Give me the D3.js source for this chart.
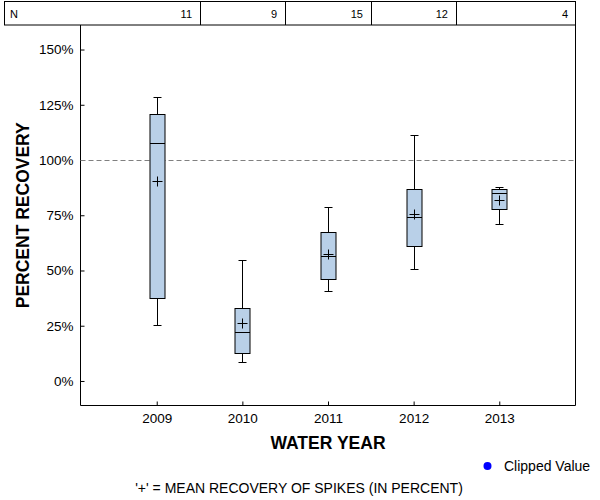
<!DOCTYPE html>
<html>
<head>
<meta charset="utf-8">
<script src="https://cdn.jsdelivr.net/npm/d3@7"></script>
<style>
  html, body { margin: 0; padding: 0; background: #fff; }
  svg { display: block; font-family: "Liberation Sans", Arial, sans-serif; }
</style>
</head>
<body>
<svg id="chart" width="600" height="500"></svg>
<script>
const years = [2009, 2010, 2011, 2012, 2013];
const counts = [11, 9, 15, 12, 4];
const whiskerLow = [25.2, 8.5, 40.6, 50.5, 70.9];
const q1 = [37.4, 12.5, 46.0, 61.0, 77.7];
const median = [107.7, 22.0, 56.4, 74.0, 84.9];
const q3 = [121.0, 32.9, 67.3, 86.7, 86.7];
const whiskerHigh = [128.4, 54.6, 78.6, 111.2, 87.6];
const means = [90.5, 26.1, 57.3, 75.7, 81.9];
const yTicks = [0, 25, 50, 75, 100, 125, 150];
const referenceLine = 100;

(function () {
const svg = d3.select("#chart");
const mLeft = 80.5, mRight = 575.5, mTop = 25, mBottom = 405.5;

const x = d3.scaleLinear().domain([2008.11, 2013.89]).range([mLeft, mRight]);
const y = d3.scaleLinear().domain([-11.1, 161.1]).range([mBottom, mTop]);

// N table
const tableTop = 1.5, tableLeft = 4.5;
const bounds = [tableLeft].concat(years.slice(0, -1).map((yr, i) => (x(yr) + x(years[i + 1])) / 2)).concat([mRight]);
svg.append("rect").attr("x", tableLeft).attr("y", tableTop)
  .attr("width", mRight - tableLeft).attr("height", mTop - tableTop)
  .attr("fill", "none").attr("stroke", "#000");
bounds.slice(1, -1).forEach(b => {
  svg.append("line").attr("x1", Math.round(b) + 0.5).attr("x2", Math.round(b) + 0.5)
    .attr("y1", tableTop).attr("y2", mTop).attr("stroke", "#000");
});
svg.append("text").attr("x", 10).attr("y", 17.5).attr("font-size", 11).text("N");
counts.forEach((c, i) => {
  svg.append("text").attr("x", Math.round(bounds[i + 1]) - 8).attr("y", 17.5)
    .attr("font-size", 11).attr("text-anchor", "end").text(c);
});

// Axes
const yAxis = d3.axisLeft(y).tickValues(yTicks).tickSize(-4).tickPadding(7).tickFormat(d => d + "%");
const gy = svg.append("g").attr("transform", `translate(${mLeft},0)`).call(yAxis);
gy.select(".domain").remove();
gy.selectAll("text").attr("font-size", 13.5).attr("font-family", "Liberation Sans, Arial, sans-serif").attr("fill", "#000");
gy.selectAll("line").attr("stroke", "#000");

const xAxis = d3.axisBottom(x).tickValues(years).tickSize(-4).tickPadding(8).tickFormat(d3.format("d"));
const gx = svg.append("g").attr("transform", `translate(0,${mBottom})`).call(xAxis);
gx.select(".domain").remove();
gx.selectAll("text").attr("font-size", 13.5).attr("font-family", "Liberation Sans, Arial, sans-serif").attr("fill", "#000");
gx.selectAll("line").attr("stroke", "#000");

// frame: left, bottom, right
svg.append("path")
  .attr("d", `M${mLeft},${mTop}V${mBottom}H${mRight}V${mTop}`)
  .attr("fill", "none").attr("stroke", "#000");

// reference line
svg.append("line").attr("x1", mLeft).attr("x2", mRight)
  .attr("y1", Math.round(y(referenceLine)) + 0.5).attr("y2", Math.round(y(referenceLine)) + 0.5)
  .attr("stroke", "#808080").attr("stroke-dasharray", "5,3");

// boxes
const boxW = 15, capW = 8, plus = 5;
const g = svg.append("g");
years.forEach((yr, i) => {
  const cx = Math.round(x(yr)) + 0.5;
  const px = v => Math.round(y(v)) + 0.5;
  g.append("line").attr("x1", cx).attr("x2", cx).attr("y1", px(whiskerHigh[i])).attr("y2", px(q3[i])).attr("stroke", "#000");
  g.append("line").attr("x1", cx).attr("x2", cx).attr("y1", px(q1[i])).attr("y2", px(whiskerLow[i])).attr("stroke", "#000");
  g.append("line").attr("x1", cx - capW / 2).attr("x2", cx + capW / 2).attr("y1", px(whiskerHigh[i])).attr("y2", px(whiskerHigh[i])).attr("stroke", "#000");
  g.append("line").attr("x1", cx - capW / 2).attr("x2", cx + capW / 2).attr("y1", px(whiskerLow[i])).attr("y2", px(whiskerLow[i])).attr("stroke", "#000");
  g.append("rect").attr("x", cx - boxW / 2).attr("y", px(q3[i]))
    .attr("width", boxW).attr("height", px(q1[i]) - px(q3[i]))
    .attr("fill", "#b9d0e8").attr("stroke", "#000");
  g.append("line").attr("x1", cx - boxW / 2).attr("x2", cx + boxW / 2).attr("y1", px(median[i])).attr("y2", px(median[i])).attr("stroke", "#000");
  g.append("line").attr("x1", cx - plus).attr("x2", cx + plus).attr("y1", px(means[i])).attr("y2", px(means[i])).attr("stroke", "#000");
  g.append("line").attr("x1", cx).attr("x2", cx).attr("y1", px(means[i]) - plus).attr("y2", px(means[i]) + plus).attr("stroke", "#000");
});

// axis titles
svg.append("text").attr("x", (mLeft + mRight) / 2).attr("y", 449)
  .attr("text-anchor", "middle").attr("font-size", 17.5).attr("font-weight", "bold").text("WATER YEAR");
svg.append("text").attr("transform", `translate(29,${(mTop + mBottom) / 2}) rotate(-90)`)
  .attr("text-anchor", "middle").attr("font-size", 17.5).attr("font-weight", "bold").text("PERCENT RECOVERY");

// legend
svg.append("circle").attr("cx", 487.5).attr("cy", 466).attr("r", 4).attr("fill", "#0000ff");
svg.append("text").attr("x", 504).attr("y", 471).attr("font-size", 14).text("Clipped Value");

// footnote
svg.append("text").attr("x", 299).attr("y", 493).attr("text-anchor", "middle").attr("font-size", 14)
  .text("'+' = MEAN RECOVERY OF SPIKES (IN PERCENT)");
})();
</script>
</body>
</html>
